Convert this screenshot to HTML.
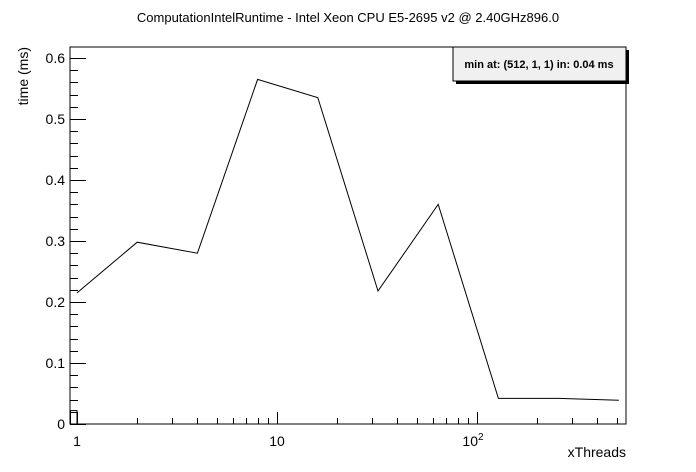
<!DOCTYPE html>
<html><head><meta charset="utf-8"><style>
html,body{margin:0;padding:0;background:#fff;}
svg{display:block;font-family:"Liberation Sans",Arial,sans-serif;}
</style></head><body>
<svg id="chart" width="696" height="472" xmlns="http://www.w3.org/2000/svg">
<text x="348" y="22" text-anchor="middle" font-size="13">ComputationIntelRuntime - Intel Xeon CPU E5-2695 v2 @ 2.40GHz896.0</text>
<rect x="70" y="47" width="556" height="377" fill="none" stroke="#000" stroke-width="1"/>
<g id="axes"></g>
<polyline id="series" fill="none" stroke="#000" stroke-width="1"/>
<text x="28" y="47" transform="rotate(-90 28 47)" text-anchor="end" font-size="14">time (ms)</text>
<text x="626" y="457" text-anchor="end" font-size="14">xThreads</text>
<g>
<rect x="456" y="50" width="173" height="34" fill="#000"/>
<rect x="453" y="47" width="173" height="34" fill="#f0f0f0" stroke="#000" stroke-width="1"/>
<text x="539" y="68" text-anchor="middle" font-size="11" font-weight="bold">min at: (512, 1, 1) in: 0.04 ms</text>
</g>
</svg>
<script>
const threads = [1,2,4,8,16,32,64,128,256,512];
const times = [0.215,0.298,0.280,0.565,0.535,0.218,0.360,0.042,0.042,0.039];
const yTicks = [0,0.1,0.2,0.3,0.4,0.5,0.6];
const yTickLabels = ["0","0.1","0.2","0.3","0.4","0.5","0.6"];
const firstBin = 0.022;

const NS="http://www.w3.org/2000/svg";
const X0=77, DEC=200, Y0=424, YS=610;
function sx(v){return X0+Math.log10(v)*DEC;}
function sy(v){return Y0-v*YS;}
const ax=document.getElementById('axes');
function line(x1,y1,x2,y2,name){
  const l=document.createElementNS(NS,'line');
  l.setAttribute('x1',x1);l.setAttribute('y1',y1);l.setAttribute('x2',x2);l.setAttribute('y2',y2);
  l.setAttribute('stroke','#000');l.setAttribute('stroke-width','1');
  
  
  ax.appendChild(l);
}
function text(x,y,s,anchor,name,size){
  const t=document.createElementNS(NS,'text');
  t.setAttribute('x',x);t.setAttribute('y',y);t.setAttribute('text-anchor',anchor);
  t.setAttribute('font-size',size||14);t.textContent=s;
  
  
  ax.appendChild(t);return t;
}
for(let v=0; v<=0.6001; v+=0.02){
  const major=Math.abs(v*10-Math.round(v*10))<1e-6;
  const y=Math.round(sy(v))+0.5;
  line(70,y,70+(major?16:8),y,'y-tick');
}
yTicks.forEach((v,i)=>{ text(65,sy(v)+5,yTickLabels[i],'end','y-tick-label'); });
for(let d=0; d<3; d++){
  for(let m=1;m<10;m++){
    const v=m*Math.pow(10,d);
    if(v>560)break;
    const x=Math.round(sx(v))+0.5;
    line(x,424,x,424-(m===1?12:6),'x-tick');
  }
}
text(sx(1),446,'1','middle','x-tick-label-1');
text(sx(10),446,'10','middle','x-tick-label-10');
const t100=text(sx(100)-4,446,'10','middle','x-tick-label-100');
const sup=document.createElementNS(NS,'tspan');
sup.setAttribute('font-size','10');sup.setAttribute('dy','-6');sup.textContent='2';
t100.appendChild(sup);
const r=document.createElementNS(NS,'rect');
r.setAttribute('x',70.5);r.setAttribute('y',sy(firstBin));r.setAttribute('width',sx(1)-70.5);r.setAttribute('height',Y0-sy(firstBin));
r.setAttribute('fill','none');r.setAttribute('stroke','#000');


ax.appendChild(r);
document.getElementById('series').setAttribute('points',
  threads.map((t,i)=>sx(t).toFixed(1)+','+sy(times[i]).toFixed(1)).join(' '));
</script>
</body></html>
